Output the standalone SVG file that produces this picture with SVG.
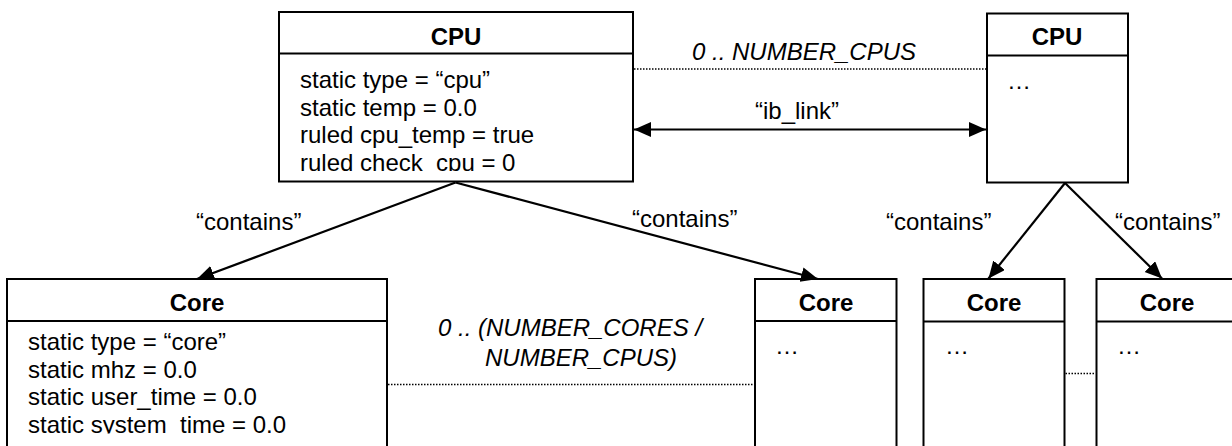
<svg xmlns="http://www.w3.org/2000/svg" width="1232" height="446" viewBox="0 0 1232 446">
  <style>
    .box { fill: #fff; stroke: #000; stroke-width: 2; }
    .sep { stroke: #000; stroke-width: 2; }
    text { font-family: "Liberation Sans", Arial, sans-serif; font-size: 24px; fill: #000; }
    .title { font-weight: bold; text-anchor: middle; }
    .attr { white-space: pre; }
    .mult { font-style: italic; white-space: pre; }
    .link { stroke: #000; stroke-width: 2.2; fill: none; }
    .dots { stroke: #000; stroke-width: 1.5; stroke-dasharray: 1.5 1.5; fill: none; }
  </style>
  <defs>
    <marker id="head" markerUnits="userSpaceOnUse" markerWidth="18" markerHeight="16" refX="17" refY="7.5" orient="auto-start-reverse">
      <path d="M0,0 L17,7.5 L0,15 z" fill="#000"/>
    </marker>
    <clipPath id="cpuText"><rect x="279" y="54" width="354" height="117"/></clipPath>
    <clipPath id="coreText"><rect x="7" y="322" width="380" height="111.5"/></clipPath>
  </defs>

  <!-- CPU with its attributes -->
  <g id="cpu-main">
    <rect class="box" x="279" y="12" width="354" height="169.5"/>
    <line class="sep" x1="279" y1="53.5" x2="633" y2="53.5"/>
    <text class="title" x="456" y="45">CPU</text>
    <g clip-path="url(#cpuText)">
      <text class="attr" x="300" y="88">static type = “cpu”</text>
      <text class="attr" x="300" y="115.5">static temp = 0.0</text>
      <text class="attr" x="300" y="143">ruled cpu_temp = true</text>
      <text class="attr" x="300" y="170.5">ruled check  cpu = 0</text>
    </g>
  </g>

  <!-- second CPU -->
  <g id="cpu-other">
    <rect class="box" x="987" y="13.5" width="141" height="169"/>
    <line class="sep" x1="987" y1="55.5" x2="1128" y2="55.5"/>
    <text class="title" x="1057" y="45">CPU</text>
    <text class="attr" x="1007" y="88.5">…</text>
  </g>

  <!-- Core with its attributes -->
  <g id="core-main">
    <rect class="box" x="7" y="279" width="380" height="190"/>
    <line class="sep" x1="7" y1="321" x2="387" y2="321"/>
    <text class="title" x="197" y="311">Core</text>
    <g clip-path="url(#coreText)">
      <text class="attr" x="28" y="350">static type = “core”</text>
      <text class="attr" x="28" y="377.5">static mhz = 0.0</text>
      <text class="attr" x="28" y="405">static user_time = 0.0</text>
      <text class="attr" x="28" y="432.5">static system  time = 0.0</text>
    </g>
  </g>

  <g id="core-2">
    <rect class="box" x="755" y="279" width="141.5" height="190"/>
    <line class="sep" x1="755" y1="321" x2="896.5" y2="321"/>
    <text class="title" x="826" y="311">Core</text>
    <text class="attr" x="775" y="354">…</text>
  </g>

  <g id="core-3">
    <rect class="box" x="923.5" y="279" width="141" height="190"/>
    <line class="sep" x1="923.5" y1="321.5" x2="1064.5" y2="321.5"/>
    <text class="title" x="994" y="311">Core</text>
    <text class="attr" x="945" y="354">…</text>
  </g>

  <g id="core-4">
    <rect class="box" x="1096.5" y="279" width="141" height="190"/>
    <line class="sep" x1="1096.5" y1="321.5" x2="1237.5" y2="321.5"/>
    <text class="title" x="1167" y="311">Core</text>
    <text class="attr" x="1117" y="354">…</text>
  </g>

  <!-- connectors -->
  <g id="connectors">
    <line class="dots" x1="634" y1="69" x2="986" y2="69"/>
    <text class="mult" x="692" y="59.5">0 .. NUMBER_CPUS</text>

    <line class="link" x1="634" y1="129.5" x2="986" y2="129.5" marker-start="url(#head)" marker-end="url(#head)"/>
    <text x="755" y="119">“ib_link”</text>

    <line class="link" x1="455.5" y1="182.5" x2="197" y2="279" marker-end="url(#head)"/>
    <line class="link" x1="455.5" y1="182.5" x2="818" y2="279" marker-end="url(#head)"/>
    <text x="196" y="230">“contains”</text>
    <text x="632" y="227">“contains”</text>

    <line class="link" x1="1065" y1="183" x2="988.5" y2="278.5" marker-end="url(#head)"/>
    <line class="link" x1="1065" y1="183" x2="1162" y2="278.5" marker-end="url(#head)"/>
    <text x="886" y="230">“contains”</text>
    <text x="1115" y="230">“contains”</text>

    <line class="dots" x1="388" y1="384.5" x2="754" y2="384.5"/>
    <text class="mult" x="438" y="336">0 .. (NUMBER_CORES /</text>
    <text class="mult" x="485" y="366">NUMBER_CPUS)</text>

    <line class="dots" x1="1065.5" y1="373.5" x2="1095.5" y2="373.5"/>
  </g>
</svg>
